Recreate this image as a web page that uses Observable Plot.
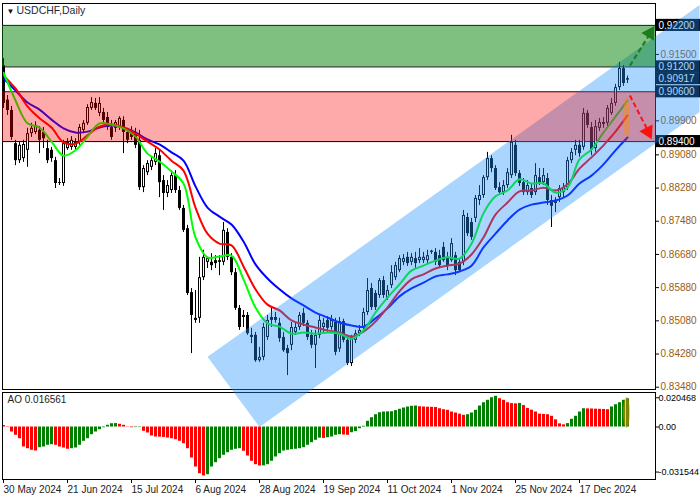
<!DOCTYPE html>
<html><head><meta charset="utf-8">
<script src="https://cdn.jsdelivr.net/npm/d3@7"></script>
<script src="https://cdn.jsdelivr.net/npm/@observablehq/plot@0.6"></script>
<style>
html,body{margin:0;padding:0;background:#fff;}
#wrap{position:relative;width:700px;height:500px;overflow:hidden;}
#wrap svg{position:absolute;left:0;top:0;}
</style></head><body><div id="wrap"></div>
<script>
// ---- Data ----
const symbolTitle = "USDCHF,Daily";
const aoTitle = "AO 0.016561";
const opens = [.9123,.9040,.9015,.8935,.8894,.8899,.8919,.8959,.8962,.8967,
.8962,.8923,.8919,.8894,.8841,.8839,.8923,.8926,.8926,.8938,
.8967,.8984,.9020,.9032,.9008,.9010,.8998,.8974,.8972,.8974,
.8991,.8962,.8967,.8962,.8943,.8829,.8865,.8878,.8890,.8906,
.8846,.8815,.8822,.8858,.8822,.8779,.8730,.8576,.8514,.8514,
.8612,.8649,.8649,.8646,.8653,.8649,.8721,.8661,.8624,.8538,
.8516,.8521,.8473,.8473,.8412,.8420,.8468,.8509,.8516,.8502,
.8468,.8441,.8449,.8480,.8492,.8526,.8502,.8473,.8449,.8473,
.8492,.8509,.8492,.8504,.8440,.8506,.8461,.8405,.8461,.8477,
.8490,.8528,.8586,.8574,.8569,.8605,.8562,.8593,.8612,.8629,
.8649,.8661,.8649,.8658,.8653,.8653,.8653,.8673,.8673,.8665,
.8685,.8661,.8653,.8665,.8649,.8649,.8757,.8745,.8755,.8798,
.8810,.8853,.8899,.8875,.8829,.8817,.8834,.8858,.8931,.8863,
.8841,.8817,.8827,.8817,.8853,.8841,.8851,.8798,.8791,.8805,
.8817,.8829,.8894,.8919,.8931,.8926,.9008,.8974,.8923,.8972,
.8986,.8984,.9008,.9032,.9070,.9116,.9088];
const highs = [.9140,.9051,.9025,.8943,.8938,.8943,.8972,.8984,.8988,.8976,
.8974,.8943,.8926,.8902,.8851,.8943,.8947,.8952,.8947,.8981,
.8991,.9029,.9046,.9044,.9046,.9020,.9010,.8991,.8991,.9000,
.9000,.8972,.8976,.8972,.8967,.8882,.8894,.8902,.8923,.8919,
.8858,.8846,.8870,.8870,.8832,.8786,.8738,.8586,.8581,.8661,
.8678,.8661,.8670,.8665,.8665,.8745,.8730,.8670,.8634,.8545,
.8533,.8528,.8490,.8480,.8444,.8502,.8521,.8538,.8528,.8514,
.8480,.8449,.8504,.8504,.8528,.8538,.8509,.8485,.8485,.8521,
.8514,.8518,.8521,.8514,.8516,.8512,.8473,.8473,.8485,.8497,
.8538,.8610,.8598,.8581,.8610,.8615,.8593,.8641,.8649,.8665,
.8668,.8673,.8670,.8673,.8682,.8673,.8678,.8678,.8682,.8678,
.8697,.8673,.8706,.8673,.8658,.8774,.8767,.8755,.8810,.8834,
.8858,.8914,.8906,.8882,.8841,.8846,.8875,.8955,.8943,.8870,
.8851,.8846,.8839,.8887,.8875,.8875,.8863,.8810,.8805,.8834,
.8839,.8902,.8923,.8943,.8943,.9020,.9015,.8986,.8991,.8996,
.8998,.9027,.9044,.9078,.9131,.9123,.9098];
const lows = [.9020,.9003,.8943,.8882,.8887,.8890,.8878,.8950,.8957,.8911,
.8923,.8887,.8890,.8827,.8834,.8832,.8919,.8919,.8919,.8931,
.8959,.8979,.9015,.9015,.9000,.8986,.8967,.8943,.8962,.8967,
.8911,.8935,.8943,.8923,.8822,.8817,.8858,.8870,.8882,.8805,
.8774,.8805,.8815,.8815,.8774,.8721,.8569,.8429,.8502,.8502,
.8605,.8634,.8629,.8634,.8617,.8641,.8653,.8617,.8533,.8485,
.8492,.8473,.8453,.8408,.8408,.8412,.8461,.8492,.8502,.8456,
.8432,.8376,.8436,.8473,.8485,.8494,.8461,.8441,.8393,.8465,
.8480,.8480,.8485,.8424,.8432,.8455,.8400,.8398,.8453,.8470,
.8485,.8521,.8533,.8533,.8562,.8562,.8557,.8586,.8605,.8624,
.8641,.8639,.8641,.8634,.8646,.8646,.8646,.8668,.8641,.8634,
.8649,.8629,.8649,.8617,.8624,.8641,.8711,.8702,.8745,.8786,
.8803,.8846,.8865,.8822,.8810,.8810,.8827,.8851,.8856,.8832,
.8810,.8810,.8803,.8810,.8834,.8834,.8786,.8733,.8769,.8793,
.8803,.8822,.8887,.8906,.8902,.8919,.8972,.8906,.8914,.8964,
.8972,.8976,.9003,.9025,.9063,.9073,.9080];
const closes = [.9032,.9015,.8950,.8894,.8931,.8933,.8959,.8972,.8979,.8943,
.8947,.8894,.8899,.8839,.8839,.8935,.8938,.8943,.8938,.8974,
.8984,.9022,.9034,.9020,.9032,.8991,.8974,.8950,.8986,.8996,
.8962,.8943,.8950,.8931,.8829,.8875,.8887,.8894,.8911,.8841,
.8815,.8834,.8858,.8822,.8779,.8726,.8574,.8521,.8509,.8612,
.8661,.8658,.8641,.8653,.8649,.8726,.8661,.8624,.8538,.8492,
.8521,.8477,.8468,.8412,.8420,.8492,.8509,.8516,.8509,.8465,
.8436,.8429,.8492,.8492,.8521,.8502,.8468,.8449,.8473,.8509,
.8502,.8490,.8509,.8432,.8506,.8461,.8405,.8468,.8477,.8485,
.8528,.8581,.8540,.8540,.8605,.8569,.8581,.8624,.8641,.8658,
.8658,.8646,.8661,.8646,.8661,.8661,.8665,.8676,.8649,.8641,
.8653,.8641,.8694,.8629,.8629,.8762,.8718,.8709,.8803,.8810,
.8853,.8899,.8875,.8827,.8817,.8834,.8865,.8938,.8863,.8839,
.8817,.8834,.8810,.8858,.8841,.8858,.8798,.8784,.8798,.8827,
.8829,.8894,.8914,.8931,.8911,.9008,.8979,.8919,.8976,.8986,
.8981,.9020,.9032,.9070,.9116,.9080,.90917];

// moving-average lines, sampled every 3 bars (bar index)
const maIndex = [0,3,6,9,12,15,18,21,24,27,30,33,36,39,42,45,48,51,54,57,60,63,66,69,72,75,78,81,84,87,90,93,96,99,102,105,108,111,114,117,120,123,126,129,132,135,138,141,144,147,150,153,156];
const maGreen = [.9106,.9039,.8984,.8974,.8940,.8906,.8919,.8952,.8984,.8981,.8972,.8952,.8911,.8892,.8868,.8839,.8709,.8661,.8663,.8665,.8608,.8540,.8502,.8494,.8477,.8480,.8477,.8480,.8477,.8465,.8485,.8528,.8564,.8596,.8629,.8641,.8653,.8661,.8658,.8694,.8767,.8808,.8822,.8849,.8839,.8839,.8817,.8829,.8897,.8921,.8962,.9000,.9039];
const maRed = [.9099,.9068,.9025,.8996,.8974,.8938,.8935,.8955,.8976,.8981,.8974,.8959,.8940,.8921,.8894,.8870,.8781,.8718,.8694,.8690,.8639,.8584,.8547,.8533,.8509,.8499,.8492,.8485,.8480,.8470,.8482,.8506,.8540,.8579,.8608,.8620,.8634,.8641,.8646,.8668,.8709,.8764,.8793,.8820,.8822,.8829,.8822,.8837,.8875,.8902,.8931,.8964,.9003];
const maBlue = [.9092,.9063,.9034,.9017,.8993,.8972,.8962,.8964,.8974,.8979,.8974,.8962,.8945,.8933,.8914,.8894,.8832,.8781,.8759,.8740,.8699,.8644,.8610,.8584,.8562,.8545,.8528,.8516,.8504,.8497,.8494,.8514,.8538,.8567,.8586,.8600,.8615,.8620,.8627,.8641,.8685,.8718,.8750,.8776,.8788,.8793,.8798,.8810,.8839,.8858,.8885,.8919,.8950];

// Awesome Oscillator, one value per bar
const aoValues = [0.0010,-0.0003,-0.0035,-0.0058,-0.0082,-0.0140,-0.0152,-0.0163,-0.0168,-0.0145,
-0.0140,-0.0128,-0.0124,-0.0128,-0.0140,-0.0147,-0.0156,-0.0152,-0.0147,-0.0128,
-0.0100,-0.0082,-0.0054,-0.0035,-0.0019,-0.0005,0.0012,0.0023,0.0024,0.0019,
0.0012,-0.0002,-0.0005,-0.0004,-0.0003,-0.0030,-0.0042,-0.0063,-0.0070,-0.0071,
-0.0073,-0.0077,-0.0082,-0.0089,-0.0100,-0.0117,-0.0152,-0.0217,-0.0280,-0.0327,
-0.0343,-0.0334,-0.0280,-0.0250,-0.0222,-0.0198,-0.0180,-0.0163,-0.0156,-0.0152,
-0.0170,-0.0203,-0.0240,-0.0264,-0.0273,-0.0272,-0.0264,-0.0240,-0.0210,-0.0187,
-0.0168,-0.0163,-0.0159,-0.0156,-0.0152,-0.0145,-0.0128,-0.0110,-0.0093,-0.0078,
-0.0080,-0.0075,-0.0070,-0.0058,-0.0054,-0.0056,-0.0058,-0.0040,-0.0032,-0.0012,
0.0005,0.0040,0.0065,0.0086,0.0100,0.0105,0.0106,0.0107,0.0115,0.0124,
0.0133,0.0140,0.0145,0.0147,0.0142,0.0140,0.0139,0.0138,0.0137,0.0128,
0.0121,0.0117,0.0105,0.0098,0.0090,0.0082,0.0086,0.0098,0.0117,0.0147,
0.0170,0.0187,0.0205,0.0215,0.0198,0.0187,0.0170,0.0164,0.0162,0.0165,
0.0150,0.0130,0.0118,0.0105,0.0090,0.0088,0.0086,0.0075,0.0050,0.0022,
0.0015,0.0024,0.0054,0.0075,0.0105,0.0128,0.0127,0.0126,0.0125,0.0124,
0.0123,0.0121,0.0140,0.0156,0.0170,0.0187,0.0198];

const dateTickIndex = [0,16,32,48,64,80,96,112,128,144];
const dateTickLabels = ["30 May 2024","21 Jun 2024","15 Jul 2024","6 Aug 2024","28 Aug 2024","19 Sep 2024","11 Oct 2024","1 Nov 2024","25 Nov 2024","17 Dec 2024"];
const priceTicks = [0.915,0.899,0.8908,0.8828,0.8748,0.8668,0.8588,0.8508,0.8428,0.8348];
const aoTicks = [0.020468,0,-0.031544];
const aoTickLabels = ["0.020468","0.00","-0.031544"];
const levelPrices = [0.9220,0.9120,0.9060,0.8940];
const lastPrice = 0.90917;
const greenZone = [0.9120,0.9220];
const redZone = [0.8940,0.9060];
const channelIndex = [51.125,64.125,174.125];
const channelLow = [0.8420,0.8251,0.9010];
const channelHigh = [0.8420,0.8509,0.9268];
const upArrow = {x1:156.6,y1:0.9123,x2:161.3,y2:0.9195,hx:161.6,hy:0.9201};
const downArrow = {x1:156.6,y1:0.9051,x2:160.8,y2:0.8972,hx:161.1,hy:0.8964};
const markEllipse = {x1:155.0,x2:156.75,y1:0.8950,y2:0.9044};
const aoEllipse = {x1:155.0,x2:156.75,y1:-0.0011,y2:0.0207};

// ---- Build tables ----
const candles = closes.map((c,i)=>({i,o:opens[i],h:highs[i],l:lows[i],c}));
const bear = candles.filter(d=>d.c<d.o);
const bull = candles.filter(d=>d.c>=d.o);
const bullBig = bull.filter(d=>d.c-d.o>0.0008);
const ma = maIndex.map((i,k)=>({i,g:maGreen[k],r:maRed[k],b:maBlue[k]}));
const ao = aoValues.map((v,i)=>({i,v,col: i>0 && v>aoValues[i-1] ? "#008000" : "#ff0000"}));
const channel = channelIndex.map((i,k)=>({i,lo:channelLow[k],hi:channelHigh[k]}));
const labelLevels = [levelPrices[0],levelPrices[1],lastPrice,levelPrices[2],levelPrices[3]];

const xDomain = [-0.25,163];
const font = "Liberation Sans, Arial, sans-serif";

const aoPlot = Plot.plot({
  width:700,height:500,marginLeft:2,marginRight:45,marginTop:392,marginBottom:21,
  style:{background:"white",fontFamily:font,fontSize:"10px",overflow:"visible"},
  x:{domain:xDomain,axis:null},
  y:{domain:[-0.03676,0.02416],axis:null},
  marks:[
    Plot.ruleX(ao,{x:"i",y1:0,y2:"v",stroke:"col",strokeWidth:3}),
    Plot.rect([aoEllipse],{x1:"x1",x2:"x2",y1:"y1",y2:"y2",rx:20,ry:200,fill:"#ff8c00",fillOpacity:0.5}),
    Plot.frame({stroke:"black"}),
    Plot.axisY(aoTicks,{anchor:"right",tickSize:3,tickPadding:0,stroke:"black",fill:"black",fontSize:9,
      letterSpacing:"-0.3px",tickFormat:d=>aoTickLabels[aoTicks.indexOf(d)]}),
    Plot.axisX(dateTickIndex,{anchor:"bottom",tickSize:4,tickPadding:2,stroke:"black",fill:"#222",fontSize:10,
      textAnchor:"start",tickFormat:d=>dateTickLabels[dateTickIndex.indexOf(d)]}),
    Plot.text([aoTitle],{frameAnchor:"top-left",dx:5,dy:3,lineAnchor:"top",textAnchor:"start",fill:"#222",fontSize:10})
  ]
});

const mainPlot = Plot.plot({
  width:700,height:500,marginLeft:2,marginRight:45,marginTop:3,marginBottom:111,
  style:{background:"transparent",fontFamily:font,fontSize:"10px",overflow:"visible"},
  x:{domain:xDomain,axis:null},
  y:{domain:[0.83425,0.92728],axis:null},
  marks:[
    Plot.ruleY(levelPrices,{stroke:"black",strokeWidth:1}),
    Plot.ruleX(candles,{x:"i",y1:"l",y2:"h",stroke:"black",strokeWidth:1}),
    Plot.ruleX(bear,{x:"i",y1:"o",y2:"c",stroke:"black",strokeWidth:3}),
    Plot.ruleX(bull,{x:"i",y1:"c",y2:"o",stroke:"black",strokeWidth:3}),
    Plot.ruleX(bullBig,{x:"i",y1:"c",y2:"o",stroke:"white",strokeWidth:1,insetTop:1,insetBottom:1}),
    Plot.line(ma,{x:"i",y:"b",stroke:"#0000ff",strokeWidth:2,curve:"catmull-rom"}),
    Plot.line(ma,{x:"i",y:"r",stroke:"#ff0000",strokeWidth:2,curve:"catmull-rom"}),
    Plot.line(ma,{x:"i",y:"g",stroke:"#00ff00",strokeWidth:2,curve:"catmull-rom"}),
    Plot.frame({stroke:"black"}),
    Plot.axisY(priceTicks,{anchor:"right",tickSize:3,tickPadding:2,stroke:"black",fill:"#9a5b10",fontSize:10,
      tickFormat:d=>d.toFixed(5)}),
    Plot.rect(labelLevels,{x1:163.25,x2:174.25,y1:d=>d-0.00146,y2:d=>d+0.00146,fill:"black"}),
    Plot.text(labelLevels,{x:163.75,y:d=>d,text:d=>d.toFixed(5),textAnchor:"start",fill:"white",fontSize:10}),
    Plot.areaY(channel,{x:"i",y1:"lo",y2:"hi",fill:"#1e90ff",fillOpacity:0.38,curve:"linear"}),
    Plot.rect([greenZone],{x1:xDomain[0],x2:xDomain[1],y1:d=>d[0],y2:d=>d[1],fill:"#008000",fillOpacity:0.5}),
    Plot.rect([redZone],{x1:xDomain[0],x2:xDomain[1],y1:d=>d[0],y2:d=>d[1],fill:"#ff0000",fillOpacity:0.333}),
    Plot.rect([markEllipse],{x1:"x1",x2:"x2",y1:"y1",y2:"y2",rx:20,ry:200,fill:"#ff8c00",fillOpacity:0.45}),
    Plot.link([upArrow],{x1:"x1",y1:"y1",x2:"x2",y2:"y2",stroke:"#1e7b1e",strokeWidth:2,strokeDasharray:"5,3"}),
    Plot.link([downArrow],{x1:"x1",y1:"y1",x2:"x2",y2:"y2",stroke:"#ff1010",strokeWidth:2,strokeDasharray:"5,3"}),
    Plot.dot([upArrow],{x:"hx",y:"hy",symbol:"triangle",r:5.5,fill:"#1e7b1e",stroke:"none",rotate:32}),
    Plot.dot([downArrow],{x:"hx",y:"hy",symbol:"triangle",r:5.5,fill:"#ff1010",stroke:"none",rotate:153}),
    Plot.text(["▼"],{frameAnchor:"top-left",dx:4,dy:5,lineAnchor:"top",textAnchor:"start",fill:"#111",fontSize:8}),
    Plot.text([symbolTitle],{frameAnchor:"top-left",dx:14,dy:3,lineAnchor:"top",textAnchor:"start",fill:"#1d2b44",fontSize:10.5})
  ]
});

const wrap = document.getElementById("wrap");
wrap.appendChild(aoPlot);
wrap.appendChild(mainPlot);
</script></body></html>
